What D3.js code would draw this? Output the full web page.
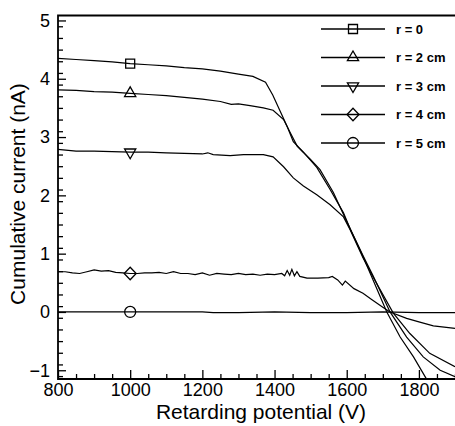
<!DOCTYPE html>
<html>
<head>
<meta charset="utf-8">
<script src="https://cdn.jsdelivr.net/npm/d3@7"></script>
<style>
  body { margin: 0; background: #fff; }
  svg { display: block; font-family: "Liberation Sans", Arial, sans-serif; }
</style>
</head>
<body>
<div id="chart"></div>
<script>
// Curves: [retarding potential (V), cumulative current (nA)]
var curveR0 = [[800,4.35],[850,4.33],[900,4.31],[950,4.29],[1000,4.26],[1050,4.24],[1100,4.22],
  [1150,4.19],[1200,4.17],[1250,4.13],[1300,4.08],[1340,4.04],[1375,3.94],[1395,3.72],[1415,3.45],
  [1435,3.18],[1452,2.92],[1480,2.74],[1517,2.48],[1554,2.10],[1591,1.70],[1610,1.42],[1645,0.95],
  [1673,0.55],[1711,0.0],[1748,-0.43],[1785,-0.77],[1822,-1.16]];

var curveR2 = [[800,3.81],[850,3.80],[900,3.78],[950,3.77],[1000,3.75],[1050,3.73],[1100,3.71],
  [1150,3.68],[1200,3.65],[1250,3.61],[1280,3.56],[1300,3.57],[1332,3.54],[1369,3.50],[1396,3.46],
  [1425,3.30],[1444,3.07],[1463,2.84],[1499,2.62],[1526,2.44],[1563,2.05],[1600,1.55],[1645,0.97],
  [1673,0.62],[1720,0.0],[1766,-0.43],[1812,-0.77],[1859,-1.0],[1900,-1.11]];

var curveR3 = [[800,2.79],[850,2.76],[900,2.76],[950,2.75],[1000,2.74],[1050,2.74],[1100,2.73],
  [1150,2.72],[1200,2.71],[1215,2.73],[1230,2.70],[1277,2.68],[1314,2.70],[1369,2.70],[1396,2.66],
  [1425,2.49],[1452,2.30],[1480,2.16],[1517,2.01],[1554,1.84],[1591,1.63],[1610,1.40],[1645,0.93],
  [1673,0.60],[1729,-0.02],[1775,-0.37],[1830,-0.71],[1900,-0.94]];

var curveR4 = [[800,0.69],[820,0.69],[840,0.67],[860,0.66],[880,0.69],[900,0.72],[920,0.70],
  [940,0.71],[960,0.68],[980,0.67],[1000,0.66],[1020,0.66],[1040,0.67],[1060,0.67],[1080,0.68],
  [1100,0.66],[1120,0.69],[1140,0.66],[1160,0.66],[1180,0.64],[1200,0.67],[1220,0.63],[1240,0.66],
  [1260,0.65],[1280,0.64],[1300,0.66],[1320,0.64],[1340,0.65],[1360,0.63],[1380,0.65],[1400,0.64],
  [1420,0.66],[1428,0.62],[1435,0.71],[1442,0.63],[1448,0.73],[1455,0.62],[1462,0.69],[1470,0.61],
  [1490,0.58],[1520,0.58],[1550,0.59],[1560,0.61],[1575,0.55],[1588,0.46],[1596,0.53],[1620,0.40],
  [1645,0.32],[1670,0.21],[1700,0.08],[1720,0.0],[1766,-0.11],[1800,-0.17],[1840,-0.24],
  [1870,-0.26],[1900,-0.28]];

var curveR5 = [[800,0.0],[1000,0.0],[1200,0.0],[1230,-0.01],[1300,-0.01],[1400,0.0],[1500,-0.01],
  [1600,-0.01],[1700,0.0],[1800,-0.01],[1900,-0.01]];

var seriesNames = ["r = 0", "r = 2 cm", "r = 3 cm", "r = 4 cm", "r = 5 cm"];
var seriesSymbols = ["square", "triangle", "triangleDown", "diamond", "circle"];
var markerPotential = 1000;

var xTicks = [800, 1000, 1200, 1400, 1600, 1800];
var yTicks = [-1, 0, 1, 2, 3, 4, 5];

var svgWidth = 455;
var svgHeight = 426;

var svg = d3.select("#chart")
  .append("svg")
  .attr("width", svgWidth)
  .attr("height", svgHeight);

var xScale = d3.scaleLinear().domain([800, 1900]).range([58, 455]);
var yScale = d3.scaleLinear().domain([-1.15, 5.085]).range([379, 15.5]);

// marker shapes, drawn around (0,0)
function symbolPath(type) {
  if (type == "square") return "M-4.5,-4.5H4.5V4.5H-4.5Z";
  if (type == "triangle") return "M0,-6.5L5.6,3.2H-5.6Z";
  if (type == "triangleDown") return "M0,6.5L5.6,-3.2H-5.6Z";
  if (type == "diamond") return "M0,-6.3L6,0L0,6.3L-6,0Z";
  return "M5.5,0A5.5,5.5 0 1,1 -5.5,0A5.5,5.5 0 1,1 5.5,0Z";
}

var curves = [curveR0, curveR2, curveR3, curveR4, curveR5];

var line = d3.line()
  .x(d => xScale(d[0]))
  .y(d => yScale(d[1]));

var plot = svg.append("g");

plot.selectAll(".curve")
  .data(curves)
  .enter()
  .append("path")
  .attr("class", "curve")
  .attr("d", line)
  .attr("fill", "none")
  .attr("stroke", "#000")
  .attr("stroke-width", 1.2);

// one marker per curve at 1000 V
plot.selectAll(".marker")
  .data(curves)
  .enter()
  .append("path")
  .attr("class", "marker")
  .attr("transform", function(d) {
    var p = d.find(v => v[0] == markerPotential);
    return `translate(${xScale(p[0])},${yScale(p[1])})`;
  })
  .attr("d", (d, i) => symbolPath(seriesSymbols[i]))
  .attr("fill", "none")
  .attr("stroke", "#000")
  .attr("stroke-width", 1.3);

// axes: ticks point inward
var minorX = d3.range(800, 1901, 50).filter(v => v % 200 != 0);
var minorY = d3.range(-11, 51, 2).map(v => v / 10).filter(v => Math.abs(v - Math.round(v)) > 0.01);

var bottomAxis = d3.axisBottom(xScale).tickValues(xTicks).tickSize(-9).tickPadding(4).tickFormat(d3.format("d"));
var bottomMinor = d3.axisBottom(xScale).tickValues(minorX).tickSize(-5).tickFormat("");
var leftAxis = d3.axisLeft(yScale).tickValues(yTicks).tickSize(-8).tickPadding(8).tickFormat(d3.format("d"));
var leftMinor = d3.axisLeft(yScale).tickValues(minorY).tickSize(-5).tickFormat("");

function styleAxis(g, size) {
  g.select(".domain").remove();
  g.selectAll("line").attr("stroke", "#000").attr("stroke-width", 1.3);
  g.selectAll("text")
    .attr("fill", "#000")
    .style("font-size", size + "px")
    .style("font-family", "'Liberation Sans', Arial, sans-serif");
}

svg.append("g").attr("transform", "translate(0,379)").call(bottomMinor).call(g => styleAxis(g, 18));
svg.append("g").attr("transform", "translate(0,379)").call(bottomAxis).call(g => styleAxis(g, 18));
svg.append("g").attr("transform", "translate(58,0)").call(leftMinor).call(g => styleAxis(g, 18));
svg.append("g").attr("transform", "translate(58,0)").call(leftAxis).call(g => styleAxis(g, 18));

// frame
svg.append("path")
  .attr("d", "M455,15.5H58V379H455")
  .attr("fill", "none")
  .attr("stroke", "#000")
  .attr("stroke-width", 1.8);

// axis titles
svg.append("text")
  .attr("x", 261)
  .attr("y", 419)
  .attr("text-anchor", "middle")
  .style("font-size", "21px")
  .text("Retarding potential (V)");

svg.append("text")
  .attr("transform", "translate(25,194) rotate(-90)")
  .attr("text-anchor", "middle")
  .style("font-size", "21px")
  .text("Cumulative current (nA)");

// legend
var legend = svg.append("g").attr("transform", "translate(321,29)");
var rows = legend.selectAll("g")
  .data(seriesNames)
  .enter()
  .append("g")
  .attr("transform", (d, i) => `translate(0,${i * 28.5})`);

rows.append("line")
  .attr("x1", 0).attr("x2", 64)
  .attr("stroke", "#000")
  .attr("stroke-width", 1.3);

rows.append("path")
  .attr("transform", "translate(32,0)")
  .attr("d", (d, i) => symbolPath(seriesSymbols[i]))
  .attr("fill", "none")
  .attr("stroke", "#000")
  .attr("stroke-width", 1.3);

rows.append("text")
  .attr("x", 75)
  .attr("dy", "0.36em")
  .style("font-size", "13px")
  .style("font-weight", "bold")
  .text(d => d);
</script>
</body>
</html>
